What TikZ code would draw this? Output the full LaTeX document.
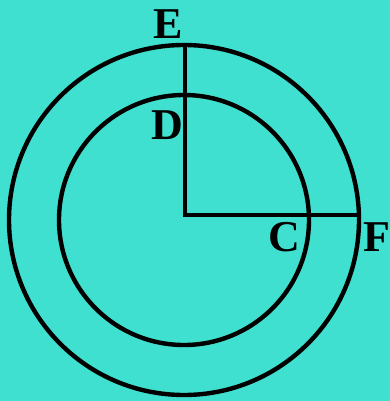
\documentclass[tikz,border=0pt]{standalone}
\usepackage{fontspec}
\setmainfont{Liberation Serif}
\usetikzlibrary{positioning}
\begin{document}
\begin{tikzpicture}[x=0.5pt, y=-0.5pt,
  ring/.style={line width=2.2pt, draw=black},
  radius line/.style={line width=2.2pt, draw=black, line cap=rect},
  lbl/.style={font=\fontsize{22}{22}\selectfont\bfseries, inner sep=0pt},
]
\definecolor{bgTeal}{HTML}{40E0D0}
% background
\fill[bgTeal] (0,0) rectangle (390,401);
\useasboundingbox (0,0) rectangle (390,401);
% ---- circles ----
\coordinate (O) at (184,220);
\coordinate (M) at (185,215);
\draw[ring] (O) circle[radius=87.5pt];
\draw[ring] (O) circle[radius=62.5pt];
% ---- radii ----
\coordinate (Etop) at (185,46);
\coordinate (Fend) at (359,215);
\draw[radius line] (Etop) -- (M) -- (Fend);
% labels
\node[lbl] (E) at (168,24) {E};
\node[lbl] (D) at (167,125) {D};
\node[lbl] (C) at (284,237) {C};
\node[lbl] (F) at (377,237) {F};
\end{tikzpicture}
\end{document}
